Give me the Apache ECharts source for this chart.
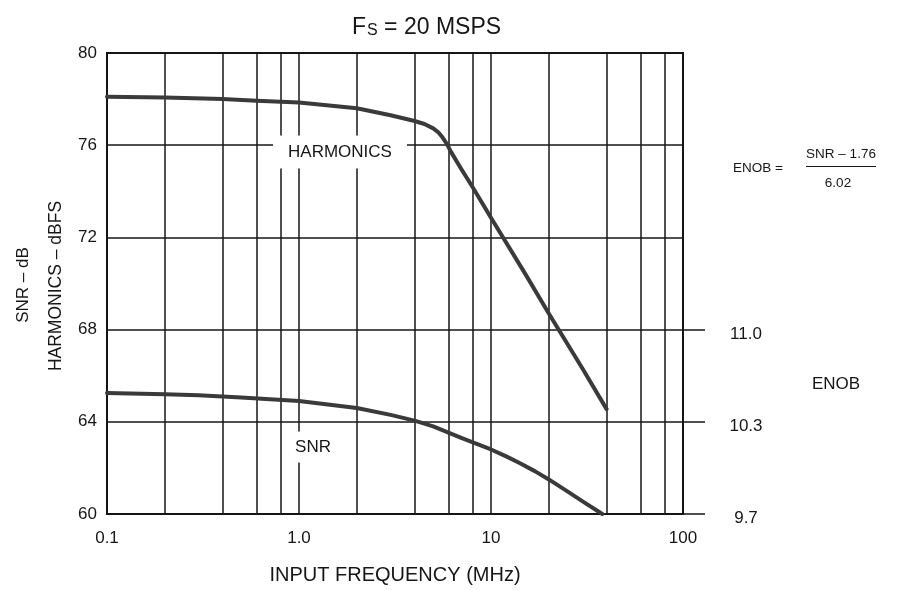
<!DOCTYPE html>
<html>
<head>
<meta charset="utf-8">
<script src="https://cdn.jsdelivr.net/npm/echarts@6/dist/echarts.min.js"></script>
<style>
  html, body { margin: 0; padding: 0; background: #fff; }
  #chart { width: 909px; height: 590px; }
</style>
</head>
<body>
<div id="chart"></div>
<script>
// Input frequency (MHz) and measured harmonics level (dBFS)
const harmFreq = [0.1, 0.2, 0.4, 0.6, 1, 2, 3, 4, 4.5, 5, 5.3, 5.6, 5.9, 6.2, 7, 8, 10, 15, 20, 30, 40];
const harmValues = [78.1, 78.07, 78.0, 77.93, 77.85, 77.6, 77.3, 77.05, 76.92, 76.73, 76.57, 76.33, 76.05, 75.7, 74.97, 74.2, 72.85, 70.45, 68.7, 66.3, 64.55];

// Input frequency (MHz) and SNR (dB)
const snrFreq = [0.1, 0.2, 0.3, 0.5, 1, 2, 3, 4, 5, 7, 10, 12, 14, 17, 20, 25, 30, 38];
const snrValues = [65.25, 65.2, 65.15, 65.05, 64.9, 64.6, 64.3, 64.05, 63.8, 63.3, 62.8, 62.5, 62.22, 61.85, 61.5, 60.98, 60.55, 60.0];

// Decade tick labels on the log frequency axis
const freqTickLabels = ['0.1', '1.0', '10', '100'];
// Intermediate vertical grid lines (2, 4, 6, 8 in each decade)
const gridFreqs = [0.2, 0.4, 0.6, 0.8, 2, 4, 6, 8, 20, 40, 60, 80];

// ENOB scale on the right: SNR levels and their ENOB values
const enobLevels = [68, 64, 60];
const enobLabels = ['11.0', '10.3', '9.7'];

const INK = '#161616';
const FONT = '"Liberation Sans", Arial, Helvetica, sans-serif';

const chart = echarts.init(document.getElementById('chart'), null, { renderer: 'canvas' });

const pairs = (xs, ys) => xs.map((x, i) => [x, ys[i]]);

const curveStyle = { color: '#3a3a3a', width: 4, cap: 'round', join: 'round' };

const option = {
  backgroundColor: '#ffffff',
  animation: false,
  textStyle: { fontFamily: FONT, color: INK },
  title: {
    text: '{a|F}{b|S}{a| = 20 MSPS}',
    left: 347,
    top: 4,
    textStyle: {
      fontWeight: 'normal',
      rich: {
        a: { fontSize: 23, fontWeight: 'normal', fontFamily: FONT, color: INK, lineHeight: 30, verticalAlign: 'bottom' },
        b: { fontSize: 16, fontWeight: 'normal', fontFamily: FONT, color: INK, lineHeight: 30, verticalAlign: 'bottom', padding: [7, 0, 0, 1] }
      }
    }
  },
  grid: {
    left: 107, right: 226, top: 53, bottom: 76,
    show: true, borderColor: INK, borderWidth: 2, backgroundColor: 'transparent'
  },
  xAxis: {
    type: 'log', logBase: 10, min: 0.1, max: 100,
    name: 'INPUT FREQUENCY (MHz)',
    nameLocation: 'middle', nameGap: 51,
    nameTextStyle: { fontSize: 20, fontFamily: FONT, color: INK },
    axisLine: { show: false },
    axisTick: { show: false },
    axisLabel: {
      fontSize: 17, color: INK, margin: 16, fontFamily: FONT,
      formatter: v => freqTickLabels[Math.round(Math.log10(v)) + 1]
    },
    splitLine: { show: true, lineStyle: { color: INK, width: 1.5 } },
    minorSplitLine: { show: false }
  },
  yAxis: [
    {
      type: 'value', min: 60, max: 80, interval: 4,
      axisLine: { show: false },
      axisTick: { show: false },
      axisLabel: { fontSize: 17, color: INK, margin: 10, fontFamily: FONT },
      splitLine: { show: true, lineStyle: { color: INK, width: 1.5 } }
    },
    {
      type: 'value', min: 60, max: 80, interval: 4, position: 'right',
      axisLine: { show: false },
      axisTick: {
        show: true, inside: false, length: 22, customValues: enobLevels,
        lineStyle: { color: INK, width: 1.5 }
      },
      axisLabel: {
        show: true, customValues: enobLevels, fontSize: 17, color: INK,
        fontFamily: FONT, align: 'center', verticalAlign: 'top', lineHeight: 9, margin: 63,
        formatter: v => enobLabels[enobLevels.indexOf(Math.round(v))] || ''
      },
      splitLine: { show: false }
    }
  ],
  series: [
    {
      name: 'grid',
      type: 'line',
      data: [],
      silent: true,
      z: 1,
      markLine: {
        silent: true,
        symbol: ['none', 'none'],
        label: { show: false },
        lineStyle: { color: INK, width: 1.5, type: 'solid' },
        data: gridFreqs.map(f => ({ xAxis: f }))
      }
    },
    {
      name: 'HARMONICS',
      type: 'line',
      data: pairs(harmFreq, harmValues),
      showSymbol: false,
      smooth: false,
      z: 5,
      lineStyle: curveStyle
    },
    {
      name: 'SNR',
      type: 'line',
      data: pairs(snrFreq, snrValues),
      showSymbol: false,
      smooth: false,
      z: 5,
      lineStyle: curveStyle
    }
  ],
  graphic: [
    // Curve labels sitting on white boxes that break the grid
    {
      type: 'text', z: 100,
      style: {
        text: 'HARMONICS', x: 340, y: 152, align: 'center', verticalAlign: 'middle',
        font: '17px ' + FONT, fill: INK, backgroundColor: '#fff', padding: [8, 15]
      }
    },
    {
      type: 'text', z: 100,
      style: {
        text: 'SNR', x: 313, y: 447, align: 'center', verticalAlign: 'middle',
        font: '17px ' + FONT, fill: INK, backgroundColor: '#fff', padding: [7, 9]
      }
    },
    // Left axis titles (two lines)
    {
      type: 'text', z: 100, rotation: Math.PI / 2, x: 23, y: 285,
      style: { text: 'SNR – dB', x: 0, y: 0, align: 'center', verticalAlign: 'middle', font: '17px ' + FONT, fill: INK }
    },
    {
      type: 'text', z: 100, rotation: Math.PI / 2, x: 56, y: 286,
      style: { text: 'HARMONICS – dBFS', x: 0, y: 0, align: 'center', verticalAlign: 'middle', font: '17.5px ' + FONT, fill: INK }
    },
    // ENOB formula
    {
      type: 'text', z: 100,
      style: { text: 'ENOB =', x: 733, y: 168, align: 'left', verticalAlign: 'middle', font: '13.5px ' + FONT, fill: INK }
    },
    {
      type: 'text', z: 100,
      style: { text: 'SNR – 1.76', x: 841, y: 154, align: 'center', verticalAlign: 'middle', font: '13.5px ' + FONT, fill: INK }
    },
    {
      type: 'line', z: 100,
      shape: { x1: 806, y1: 166.5, x2: 876, y2: 166.5 },
      style: { stroke: INK, lineWidth: 1 }
    },
    {
      type: 'text', z: 100,
      style: { text: '6.02', x: 838, y: 183, align: 'center', verticalAlign: 'middle', font: '13.5px ' + FONT, fill: INK }
    },
    {
      type: 'text', z: 100,
      style: { text: 'ENOB', x: 836, y: 384, align: 'center', verticalAlign: 'middle', font: '17px ' + FONT, fill: INK }
    }
  ]
};

chart.setOption(option);
</script>
</body>
</html>
